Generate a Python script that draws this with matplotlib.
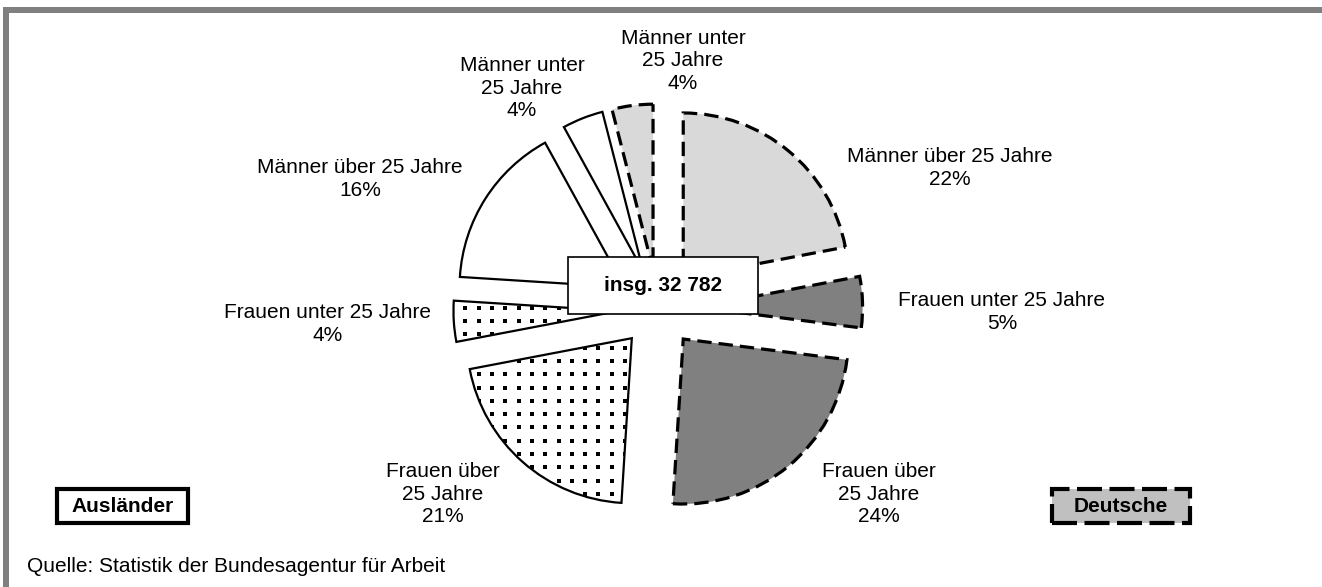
import matplotlib.pyplot as plt
import numpy as np
from matplotlib.patches import Rectangle

plt.rcParams['font.family'] = ['Liberation Sans', 'DejaVu Sans']

# Segmente im Uhrzeigersinn ab 12 Uhr
gruppen = ['Deutsche', 'Deutsche', 'Deutsche', 'Ausländer', 'Ausländer', 'Ausländer', 'Ausländer', 'Deutsche']
beschriftungen = ['Männer über 25 Jahre', 'Frauen unter 25 Jahre', 'Frauen über\n25 Jahre',
                  'Frauen über\n25 Jahre', 'Frauen unter 25 Jahre', 'Männer über 25 Jahre',
                  'Männer unter\n25 Jahre', 'Männer unter\n25 Jahre']
anteile = [22, 5, 24, 21, 4, 16, 4, 4]
insgesamt = 'insg. 32 782'
quelle = 'Quelle: Statistik der Bundesagentur für Arbeit'

W, H = 1322, 587
CX, CY, R = 658, 308.5, 165   # Kreismitte und Radius in Pixeln


def px(x, y):
    # Pixel (oben links) -> Datenkoordinaten
    return (x - CX) / R, (CY - y) / R


# Lage der Beschriftungen in Pixeln
label_pos = [(950, 168), (1002, 312), (879, 494), (443, 494),
             (328, 324), (360, 179), (522, 88), (683, 61)]

farben = {('Deutsche', 'Männer'): '#d9d9d9', ('Deutsche', 'Frauen'): '#808080',
          ('Ausländer', 'Männer'): 'white', ('Ausländer', 'Frauen'): 'white'}

fig = plt.figure(figsize=(W / 100, H / 100), dpi=100)
ax = fig.add_axes([0, 0, 1, 1])

wedges, _ = ax.pie(anteile, startangle=90, counterclock=False, radius=1,
                   explode=[0.24] * len(anteile))

step = 13.3 / R
xs = np.arange(px(0, 0)[0], px(W, 0)[0], step)
ys = np.arange(px(0, H)[1], px(0, 0)[1], step)
gx, gy = np.meshgrid(xs, ys)

for w, g, b in zip(wedges, gruppen, beschriftungen):
    geschl = b.split()[0]
    w.set_facecolor(farben[(g, geschl)])
    w.set_edgecolor('black')
    w.set_joinstyle('miter')
    if g == 'Deutsche':
        w.set_linewidth(2.3)
        w.set_linestyle((0, (4.5, 2.2)))
    else:
        w.set_linewidth(1.6)
    if g == 'Ausländer' and geschl == 'Frauen':
        sc = ax.scatter(gx.ravel(), gy.ravel(), s=8, marker='s', color='black',
                        linewidths=0, zorder=w.get_zorder() + 0.1)
        sc.set_clip_path(w)

for b, a, (lx, ly) in zip(beschriftungen, anteile, label_pos):
    x, y = px(lx, ly)
    ax.text(x, y, f'{b}\n{a}%', ha='center', va='center', fontsize=15, linespacing=1.25)

# Kasten in der Mitte
x0, y0 = px(568, 314)
x1, y1 = px(758, 257)
ax.add_patch(Rectangle((x0, y0), x1 - x0, y1 - y0, fc='white', ec='black', lw=1.2, zorder=5))
ax.text((x0 + x1) / 2, (y0 + y1) / 2, insgesamt, ha='center', va='center',
        fontsize=15, fontweight='bold', zorder=6)

# Legendenkästen
x0, y0 = px(57, 523)
x1, y1 = px(188, 489)
ax.add_patch(Rectangle((x0, y0), x1 - x0, y1 - y0, fc='white', ec='black', lw=3,
                       joinstyle='miter', zorder=5))
ax.text((x0 + x1) / 2, (y0 + y1) / 2, 'Ausländer', ha='center', va='center',
        fontsize=15, fontweight='bold', zorder=6)

x0, y0 = px(1052, 523)
x1, y1 = px(1190, 489)
ax.add_patch(Rectangle((x0, y0), x1 - x0, y1 - y0, fc='#c0c0c0', ec='black', lw=3,
                       ls=(0, (6, 1.8)), joinstyle='miter', zorder=5))
ax.text((x0 + x1) / 2, (y0 + y1) / 2, 'Deutsche', ha='center', va='center',
        fontsize=15, fontweight='bold', zorder=6)

qx, qy = px(27, 572)
ax.text(qx, qy, quelle, ha='left', va='baseline', fontsize=15)

ax.set_xlim(px(0, 0)[0], px(W, 0)[0])
ax.set_ylim(px(0, H)[1], px(0, 0)[1])
ax.set_aspect('auto')
ax.axis('off')

# grauer Rahmen oben und links
fig.add_artist(Rectangle((3 / W, 1 - 13 / H), 1, 6 / H, transform=fig.transFigure,
                         fc='#808080', ec='none'))
fig.add_artist(Rectangle((3 / W, 0), 6 / W, 1 - 7 / H, transform=fig.transFigure,
                         fc='#808080', ec='none'))

fig.savefig('out.png', dpi=100)
